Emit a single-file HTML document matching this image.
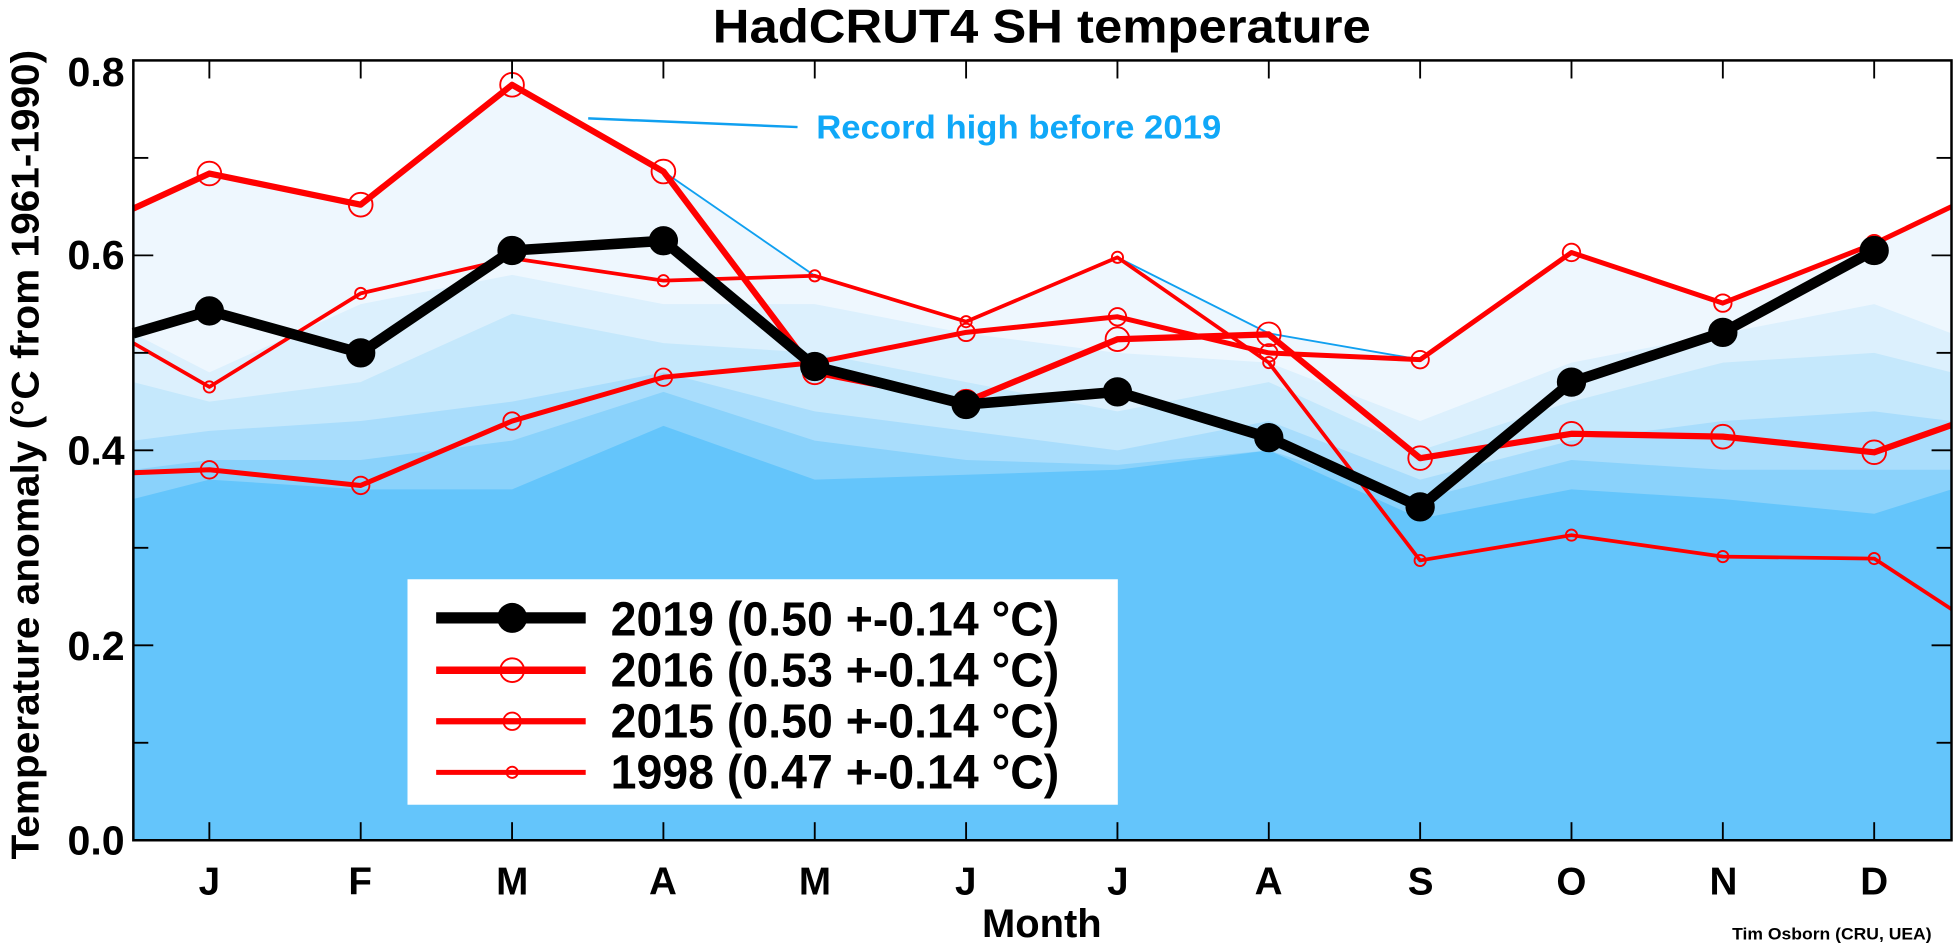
<!DOCTYPE html>
<html><head><meta charset="utf-8"><style>
html,body{margin:0;padding:0;background:#fff;}
svg{display:block;}
text{font-family:"Liberation Sans",Arial,sans-serif;font-weight:bold;}
</style></head><body>
<svg id="s" width="1954" height="948" viewBox="0 0 1568 761" preserveAspectRatio="none" xmlns="http://www.w3.org/2000/svg">
<rect x="0" y="0" width="1568" height="761" fill="#fff"/>
<g id="bands"></g>
<g id="lines"></g>
<rect x="327" y="465" width="570" height="181" fill="#fff"/>
<g id="axes"></g>
<text x="572" y="34" font-size="38" textLength="528" lengthAdjust="spacingAndGlyphs">HadCRUT4 SH temperature</text>
<text x="788" y="752" font-size="32" textLength="96" lengthAdjust="spacingAndGlyphs">Month</text>
<text transform="translate(31,690) rotate(-90)" font-size="31" textLength="650" lengthAdjust="spacingAndGlyphs">Temperature anomaly (°C from 1961-1990)</text>
<text x="1390" y="754" font-size="13" textLength="160" lengthAdjust="spacingAndGlyphs">Tim Osborn (CRU, UEA)</text>
<g font-size="33" text-anchor="end">
<text x="100" y="69">0.8</text><text x="100" y="216">0.6</text><text x="100" y="373">0.4</text><text x="100" y="530">0.2</text><text x="100" y="686">0.0</text>
</g>
<g font-size="31" text-anchor="middle">
<text x="168" y="718">J</text><text x="289" y="718">F</text><text x="411" y="718">M</text><text x="532" y="718">A</text><text x="654" y="718">M</text><text x="775" y="718">J</text><text x="897" y="718">J</text><text x="1018" y="718">A</text><text x="1140" y="718">S</text><text x="1261" y="718">O</text><text x="1383" y="718">N</text><text x="1504" y="718">D</text>
</g>
<line x1="472" y1="95" x2="640" y2="102" stroke="#10a0f0" stroke-width="2"/>
<text x="655" y="111" font-size="27" fill="#10a8f8" textLength="325" lengthAdjust="spacingAndGlyphs">Record high before 2019</text>
<g font-size="39">
<line x1="350" y1="496" x2="470" y2="496" stroke="#000" stroke-width="9"/><ellipse cx="411" cy="496" rx="12" ry="12" fill="#000"/>
<text x="490" y="510" textLength="360" lengthAdjust="spacingAndGlyphs">2019 (0.50 +-0.14 °C)</text>
<line x1="350" y1="538" x2="470" y2="538" stroke="red" stroke-width="6"/><circle cx="411" cy="538" r="9.5" fill="none" stroke="red" stroke-width="1.5"/>
<text x="490" y="551" textLength="360" lengthAdjust="spacingAndGlyphs">2016 (0.53 +-0.14 °C)</text>
<line x1="350" y1="579" x2="470" y2="579" stroke="red" stroke-width="5"/><circle cx="411" cy="579" r="7" fill="none" stroke="red" stroke-width="1.5"/>
<text x="490" y="592" textLength="360" lengthAdjust="spacingAndGlyphs">2015 (0.50 +-0.14 °C)</text>
<line x1="350" y1="620" x2="470" y2="620" stroke="red" stroke-width="4"/><circle cx="411" cy="620" r="4.5" fill="none" stroke="red" stroke-width="1.5"/>
<text x="490" y="633" textLength="360" lengthAdjust="spacingAndGlyphs">1998 (0.47 +-0.14 °C)</text>
</g>
</svg>
<script>
var NS="http://www.w3.org/2000/svg";
function X(i){return 168+121.45*i;}
function Y(v){return 674.5-v*782.5;}
function el(p,t,a){var e=document.createElementNS(NS,t);for(var k in a)e.setAttribute(k,a[k]);document.getElementById(p).appendChild(e);return e;}
function pts(arr,l,r){var s=[];if(l!=null)s.push([107,Y(l)]);arr.forEach(function(v,i){s.push([X(i),Y(v)]);});if(r!=null)s.push([1566,Y(r)]);return s;}
function str(s){return s.map(function(p){return p[0].toFixed(1)+","+p[1].toFixed(1);}).join(" ");}
var rec=[.684,.652,.775,.686,.579,.532,.598,.52,.493,.603,.551,.612];
var layers=[
 [rec,.648,.65,"#eef7fe"],
 [[.48,.55,.58,.55,.55,.52,.50,.49,.43,.49,.52,.55],.52,.52,"#dcf0fd"],
 [[.45,.47,.54,.51,.50,.47,.44,.47,.40,.45,.49,.50],.47,.48,"#c5e8fc"],
 [[.42,.43,.45,.48,.44,.42,.40,.43,.37,.41,.43,.44],.41,.43,"#a9ddfc"],
 [[.39,.39,.41,.46,.41,.39,.385,.40,.35,.39,.38,.38],.38,.38,"#8ad2fb"],
 [[.37,.36,.36,.425,.37,.375,.38,.40,.33,.36,.35,.335],.35,.36,"#64c5fb"]
];
layers.forEach(function(L){var s=pts(L[0],L[1],L[2]);s.push([1566,674.5]);s.push([107,674.5]);el("bands","polygon",{points:str(s),fill:L[3]});});
el("lines","polyline",{points:str(pts(rec,.648,.65)),fill:"none",stroke:"#10a0f0","stroke-width":1.5});
var d1998=[.465,.561,.597,.574,.579,.532,.598,.49,.287,.313,.291,.289];
var d2015=[.380,.364,.430,.475,.49,.521,.537,.50,.493,.603,.551,.612];
var d2016=[.684,.652,.775,.686,.48,.45,.514,.519,.392,.417,.414,.398];
var d2019=[.543,.500,.605,.615,.486,.447,.460,.413,.342,.470,.521,.605];
function series(d,l,r,w,col,rad,fill){
 el("lines","polyline",{points:str(pts(d,l,r)),fill:"none",stroke:col,"stroke-width":w,"stroke-linejoin":"round"});
 d.forEach(function(v,i){el("lines","circle",{cx:X(i),cy:Y(v),r:rad,fill:fill?col:"none",stroke:col,"stroke-width":1.5});});
}
series(d1998,.51,.237,3,"red",4.5,false);
series(d2015,.377,.65,4,"red",7,false);
series(d2016,.648,.426,5,"red",9.5,false);
series(d2019,.52,null,8.5,"#000",11,true);
el("axes","rect",{x:107,y:48.5,width:1459,height:626,fill:"none",stroke:"#000","stroke-width":2});
for(var k=1;k<8;k++){var y=Y(k*0.1),len=(k%2==0)?16:12;
 el("axes","line",{x1:107,y1:y,x2:107+len,y2:y,stroke:"#000","stroke-width":1.5});
 el("axes","line",{x1:1566,y1:y,x2:1566-len,y2:y,stroke:"#000","stroke-width":1.5});}
for(var i=0;i<12;i++){el("axes","line",{x1:X(i),y1:674.5,x2:X(i),y2:660,stroke:"#000","stroke-width":1.5});
 el("axes","line",{x1:X(i),y1:48.5,x2:X(i),y2:63,stroke:"#000","stroke-width":1.5});}
</script>
</body></html>
